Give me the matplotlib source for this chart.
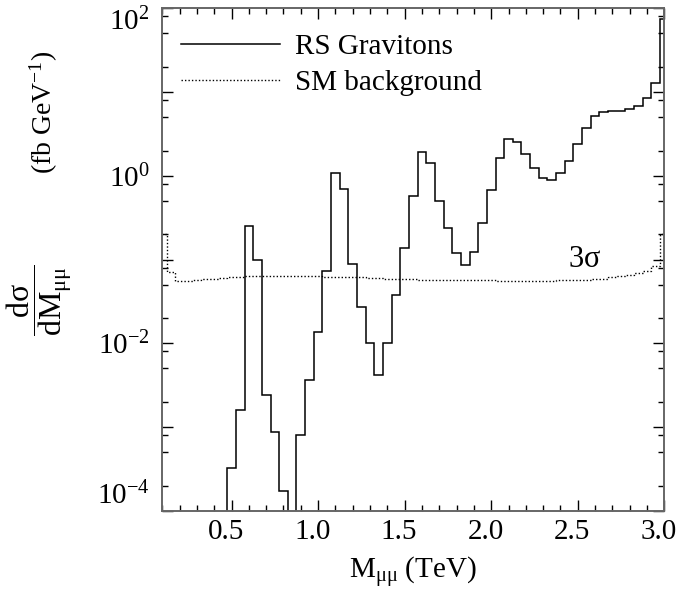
import numpy as np
import matplotlib
matplotlib.use('Agg')
import matplotlib.pyplot as plt
import matplotlib.transforms as mtransforms
from matplotlib.ticker import LogLocator, MultipleLocator, FuncFormatter, FormatStrFormatter

plt.rcParams['font.family'] = ['Liberation Serif', 'DejaVu Serif']
plt.rcParams['mathtext.fontset'] = 'custom'
plt.rcParams['mathtext.rm'] = 'Liberation Serif'
plt.rcParams['mathtext.it'] = 'Liberation Serif'
plt.rcParams['mathtext.bf'] = 'Liberation Serif:bold'

# %%
# binned cross sections, 50 GeV bins
bin_width = 0.05

# RS graviton signal, first bin centred at 0.45 TeV (values below 1e-4 are off the plot)
rs_first_centre = 0.45
rs_vals = [1e-6, 3.2e-4, 1.6e-3, 0.25, 0.10, 2.4e-3, 8.6e-4, 1.7e-4, 1e-6, 8.0e-4,
           3.6e-3, 0.0136, 0.072, 1.09, 0.69, 0.088, 0.027, 0.010, 0.0042, 0.010,
           0.038, 0.138, 0.57, 1.93, 1.41, 0.50, 0.24, 0.12, 0.086, 0.124,
           0.27, 0.675, 1.61, 2.72, 2.50, 1.80, 1.25, 0.93, 0.89, 1.07,
           1.51, 2.37, 3.68, 5.16, 5.71, 5.92, 6.0, 6.2, 6.8, 8.6,
           12.7, 75.0]

# SM background (3 sigma), first bin centred at 0.10 TeV, last at 3.00 TeV
sm_first_centre = 0.10
sm_vals = [0.20, 0.0709, 0.0554, 0.0554, 0.0569, 0.0585, 0.0593, 0.0601, 0.0610, 0.0618,
           0.0627, 0.0635, 0.0635, 0.0635, 0.0635, 0.0635, 0.0635, 0.0635, 0.0627, 0.0618,
           0.0618, 0.0618, 0.0610, 0.0610, 0.0601, 0.0601, 0.0593, 0.0593, 0.0585, 0.0585,
           0.0577, 0.0577, 0.0569, 0.0569, 0.0569, 0.0569, 0.0562, 0.0562, 0.0562, 0.0554,
           0.0554, 0.0554, 0.0554, 0.0554, 0.0554, 0.0554, 0.0562, 0.0562, 0.0569, 0.0569,
           0.0585, 0.0593, 0.0610, 0.0627, 0.0653, 0.0690, 0.0739, 0.0836, 0.20]

rs_edges = rs_first_centre - bin_width / 2 + bin_width * np.arange(len(rs_vals) + 1)
sm_edges = sm_first_centre - bin_width / 2 + bin_width * np.arange(len(sm_vals) + 1)

# %%
fig = plt.figure(figsize=(6.8, 5.92), dpi=100)
ax = fig.add_axes([0.2387, 0.1373, 0.7382, 0.8487])

ax.stairs(rs_vals, rs_edges, baseline=None, color='k', linewidth=1.1, label='RS Gravitons')
ax.stairs(sm_vals, sm_edges, baseline=None, color='k', linewidth=1.0,
          linestyle=(0, (1, 1.5)), label='SM background')

ax.set_yscale('log')
ax.set_xlim(0.1, 3.0)
ax.set_ylim(1e-4, 1e2)

ax.xaxis.set_major_locator(MultipleLocator(0.5))
ax.xaxis.set_minor_locator(MultipleLocator(0.1))
ax.xaxis.set_major_formatter(FormatStrFormatter('%.1f'))
ax.yaxis.set_major_locator(LogLocator(base=10, numticks=20))
ax.yaxis.set_minor_locator(LogLocator(base=10, subs=[2, 5, 8], numticks=20))

def ylab(v, pos):
    e = int(round(np.log10(v)))
    return r'$10^{%d}$' % e if e % 2 == 0 else ''
ax.yaxis.set_major_formatter(FuncFormatter(ylab))

ax.tick_params(which='both', direction='in', top=True, right=True, labelsize=21, width=1)
ax.tick_params(which='major', length=8)
ax.tick_params(which='minor', length=4.5)
ax.tick_params(axis='x', pad=6)
ax.tick_params(axis='y', pad=9)
for s in ax.spines.values():
    s.set_color('#666666')
    s.set_linewidth(1.4)

# shift the end labels inwards like the original, x labels a little to the left
fig.canvas.draw()
for t in ax.get_yticklabels():
    if t.get_text() == r'$10^{2}$':
        t.set_verticalalignment('top')
    if t.get_text() == r'$10^{-4}$':
        t.set_verticalalignment('bottom')
shift = mtransforms.ScaledTranslation(-4 / 72, 0, fig.dpi_scale_trans)
for t in ax.get_xticklabels():
    t.set_transform(t.get_transform() + shift)

ax.text(2.54, 0.10, r'3$\sigma$', fontsize=22, ha='center', va='center')

ax.legend(loc='upper left', bbox_to_anchor=(0.037, 0.95), frameon=False, fontsize=21,
          handlelength=3.4, handletextpad=0.5, labelspacing=0.33, borderaxespad=0,
          borderpad=0)

ax.set_xlabel(r'M$_{\mu\mu}$ (TeV)', fontsize=21, labelpad=7)
fig.text(0.058, 0.493, r'$\dfrac{\mathrm{d}\sigma}{\mathrm{dM}_{\mu\mu}}$', fontsize=23,
         rotation=90, ha='center', va='center')
fig.text(0.064, 0.81, r'(fb GeV$^{-1}$)', fontsize=20, rotation=90, ha='center', va='center')

fig.savefig('out.png', dpi=100)
